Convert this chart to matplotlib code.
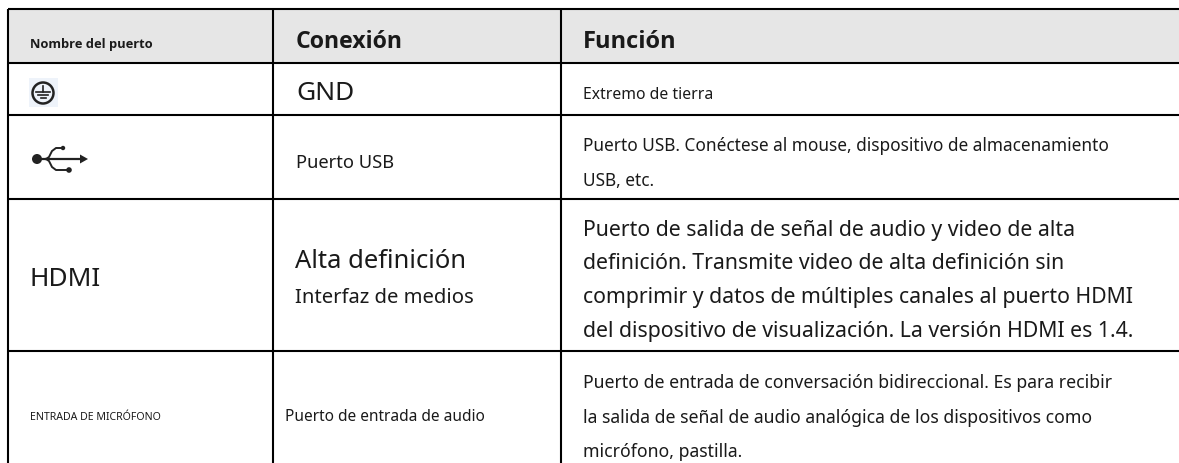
import matplotlib
matplotlib.use('Agg')
from matplotlib import pyplot as plt
from matplotlib.patches import Rectangle, Circle, Polygon

W = 1179
H = 464

HEADER_BG = '#e6e6e6'
LINE = '#000000'
TEXT = '#1a1a1a'
ICON = '#222222'
FONT = ['Noto Sans', 'DejaVu Sans']
FONT_BOLD = ['Open Sans', 'Noto Sans', 'DejaVu Sans']

# table text
headers = ['Nombre del puerto', 'Conexión', 'Función']
col1 = ['HDMI', 'ENTRADA DE MICRÓFONO']
col2 = ['GND', 'Puerto USB', 'Alta definición', 'Interfaz de medios', 'Puerto de entrada de audio']
col3 = [
    'Extremo de tierra',
    'Puerto USB. Conéctese al mouse, dispositivo de almacenamiento',
    'USB, etc.',
    'Puerto de salida de señal de audio y video de alta',
    'definición. Transmite video de alta definición sin',
    'comprimir y datos de múltiples canales al puerto HDMI',
    'del dispositivo de visualización. La versión HDMI es 1.4.',
    'Puerto de entrada de conversación bidireccional. Es para recibir',
    'la salida de señal de audio analógica de los dispositivos como',
    'micrófono, pastilla.',
]

# layout, in pixels
col_x = [7.5, 273, 561]
row_y = [10, 64, 116, 200, 352]
header_x = [30, 296, 583]
header_y = [48, 48, 48]
header_size = [9.3, 16.7, 17]
col1_x = [30, 30]
col1_y = [286, 420]
col1_size = [18.9, 7.6]
col2_x = [296, 296, 295, 295, 285]
col2_y = [100, 168, 268, 303, 421]
col2_size = [18.9, 13.2, 18.4, 14.6, 11.1]
col3_y = [99, 151, 186, 236, 269, 303, 337, 388, 423, 457]
col3_size = [11.3, 12.4, 12.4, 15.3, 15.3, 15.3, 15.3, 12.7, 12.7, 12.7]


def put_text(ax, x, y, s, size, weight='normal', family=FONT):
    ax.text(x, y, s, fontsize=size, fontweight=weight, family=family,
            color=TEXT, va='baseline', ha='left')


def main():
    fig = plt.figure(figsize=(W / 100, H / 100), dpi=100)
    ax = fig.add_axes([0, 0, 1, 1])
    ax.set_xlim(0, W)
    ax.set_ylim(H, 0)
    ax.axis('off')

    ax.add_patch(Rectangle((col_x[0], row_y[0]), W - col_x[0], row_y[1] - row_y[0],
                           color=HEADER_BG, lw=0))
    for x in col_x:
        ax.plot([x, x], [row_y[0], H], color=LINE, lw=1.5, solid_capstyle='butt')
    for y in row_y:
        ax.plot([col_x[0], W], [y, y], color=LINE, lw=1.5, solid_capstyle='butt')

    for s, x, y, size in zip(headers, header_x, header_y, header_size):
        put_text(ax, x, y, s, size, 'bold', FONT_BOLD)
    for s, x, y, size in zip(col1, col1_x, col1_y, col1_size):
        put_text(ax, x, y, s, size)
    for s, x, y, size in zip(col2, col2_x, col2_y, col2_size):
        put_text(ax, x, y, s, size)
    for s, y, size in zip(col3, col3_y, col3_size):
        put_text(ax, 583, y, s, size)

    # ground symbol
    ax.add_patch(Rectangle((29, 79), 29, 29, color='#eef3fa', lw=0))
    ax.add_patch(Circle((43, 94), 10.5, fill=False, ec=ICON, lw=1.8))
    ax.plot([43, 43], [87, 93], color=ICON, lw=1.2)
    for half, y in [(7, 93), (5, 96), (2.5, 99)]:
        ax.plot([43 - half, 43 + half], [y, y], color=ICON, lw=1.2)

    # usb symbol
    ax.add_patch(Circle((37, 160), 5, color=ICON, lw=0))
    ax.plot([37, 82], [160, 160], color=ICON, lw=1.6)
    ax.add_patch(Polygon([[80, 155.5], [80, 164.5], [88, 160]], color=ICON, lw=0))
    ax.plot([46, 49, 52, 56, 63], [160, 158, 152, 149, 149], color=ICON, lw=1.4)
    ax.plot([46, 49, 52, 56, 69], [160, 162, 168, 171, 171], color=ICON, lw=1.4)
    ax.add_patch(Circle((63, 149), 2.2, color=ICON, lw=0))
    ax.add_patch(Circle((69, 171), 2.8, color=ICON, lw=0))

    fig.savefig('out.png', dpi=100)


if __name__ == '__main__':
    main()
